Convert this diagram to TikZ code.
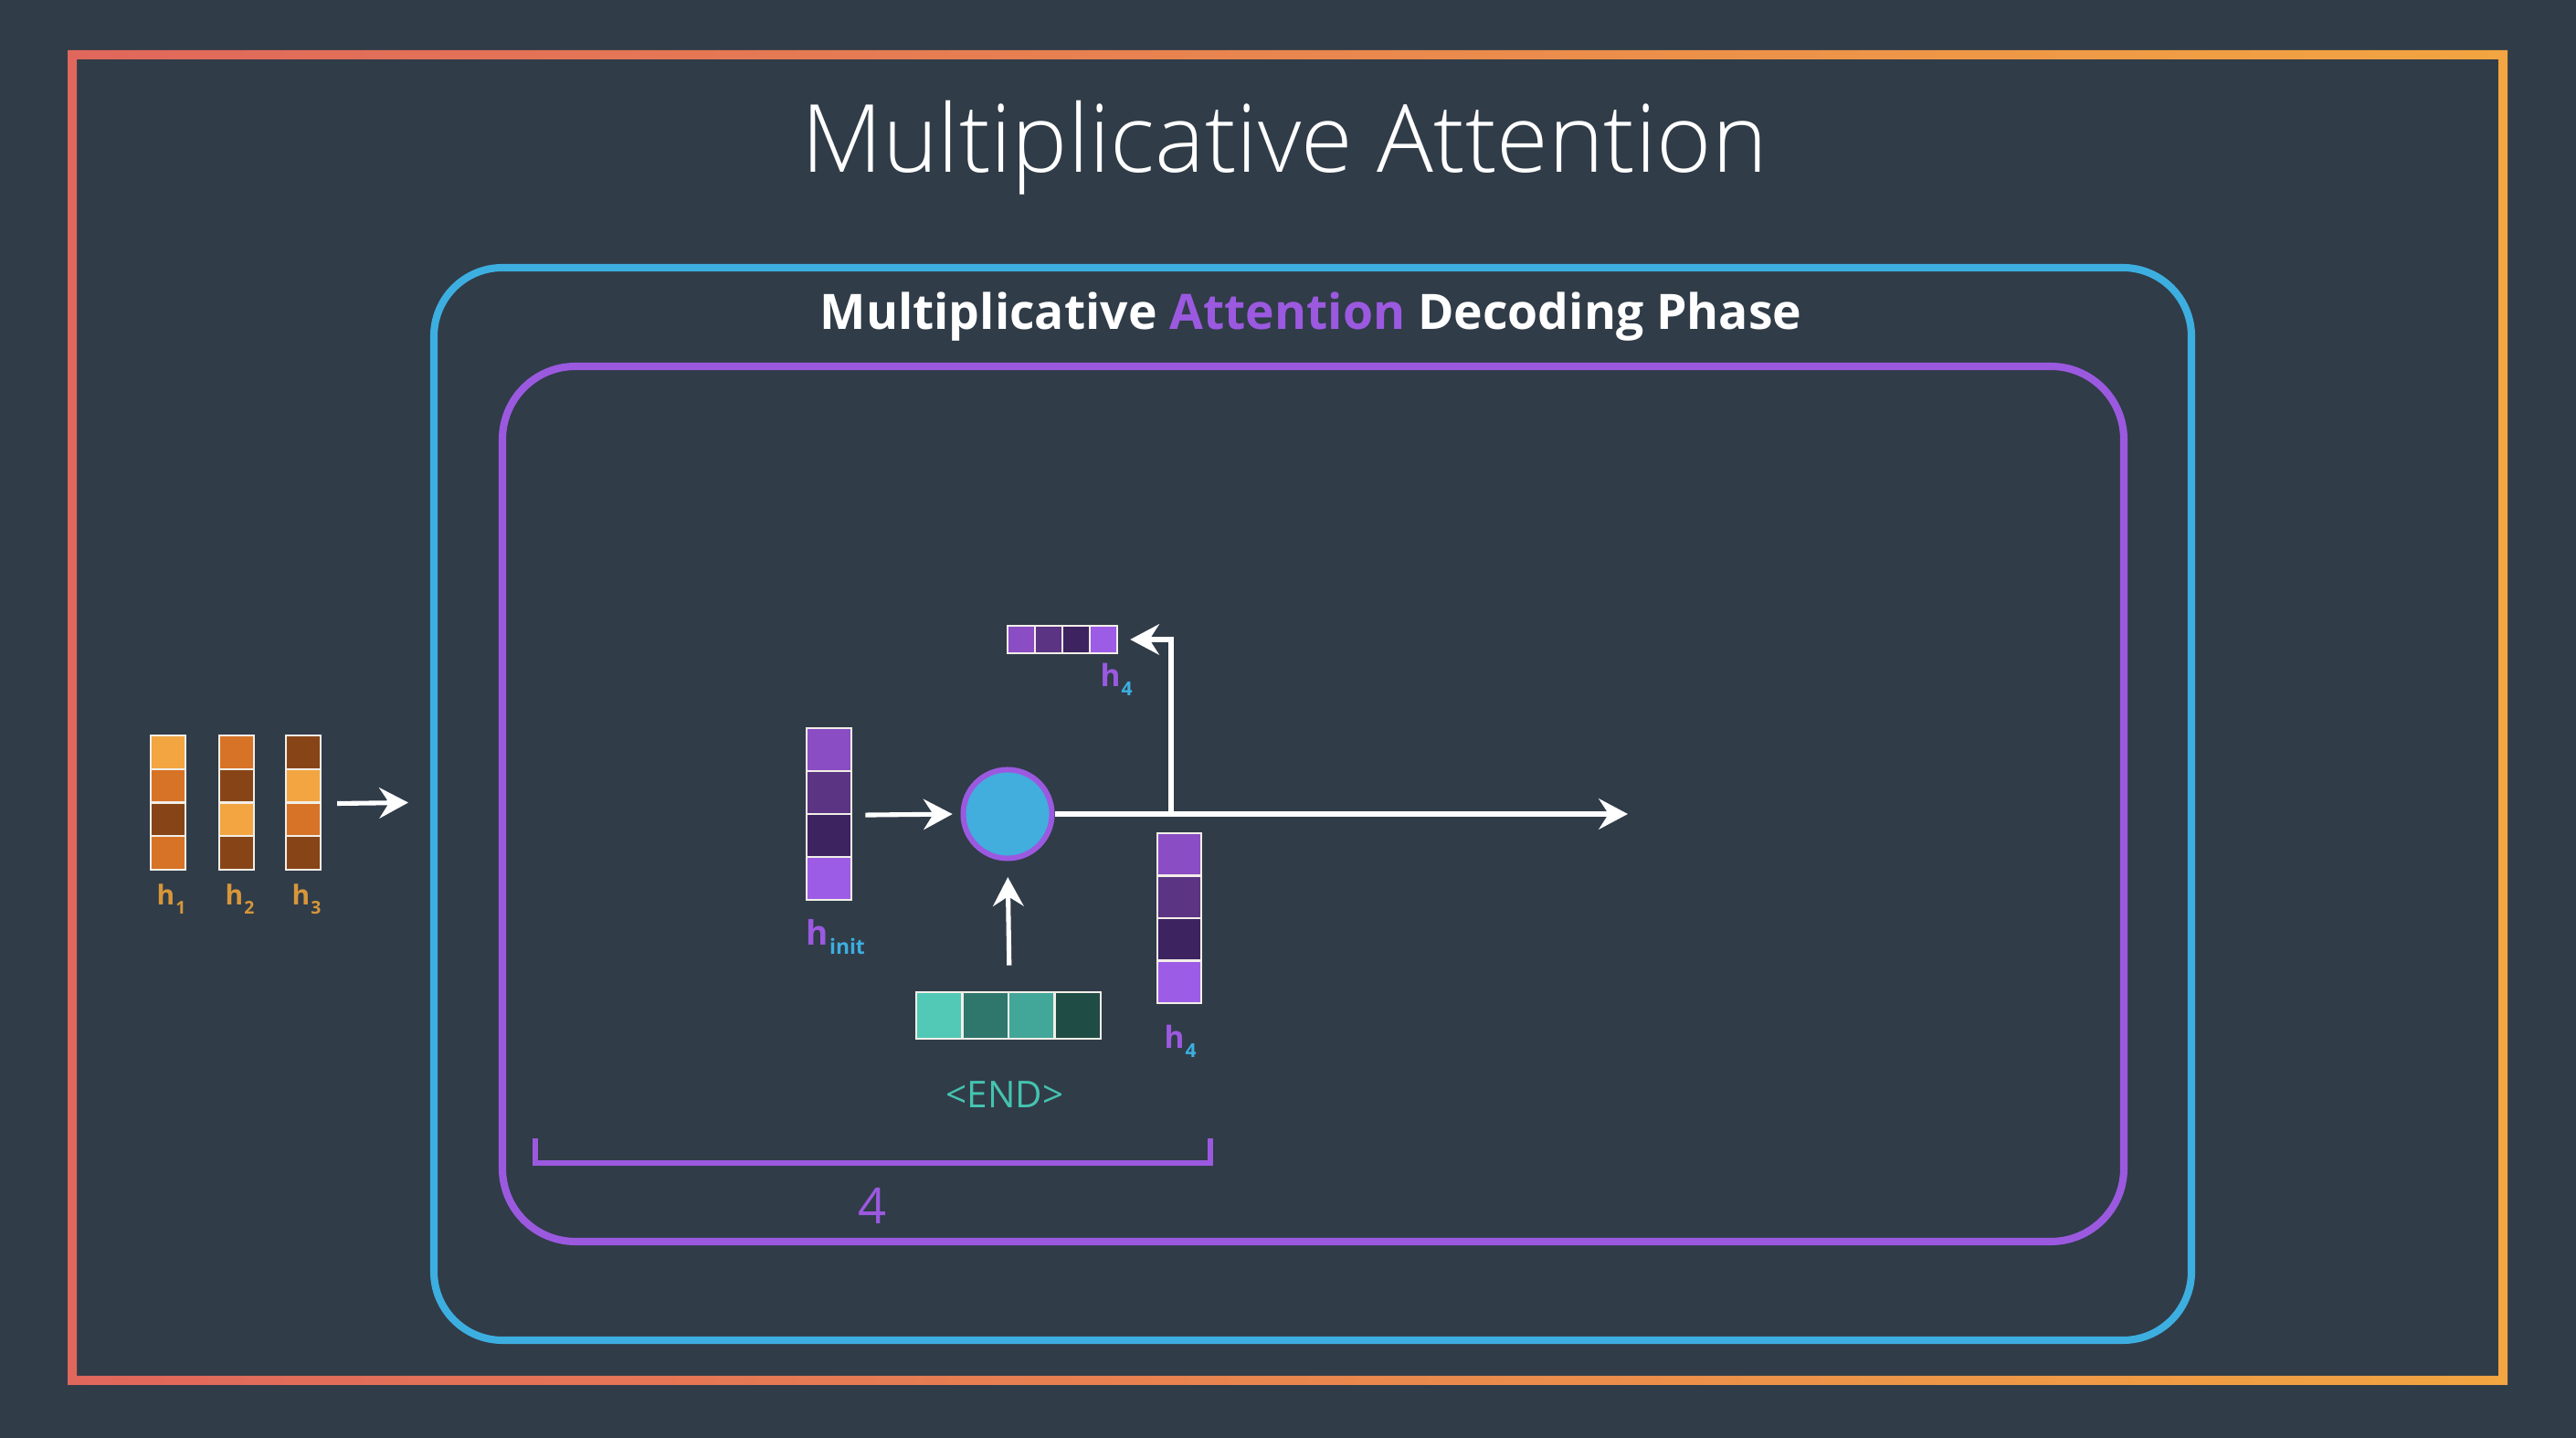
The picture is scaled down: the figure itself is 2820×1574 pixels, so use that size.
\documentclass[tikz,border=0pt]{standalone}
\usepackage{fontspec}
\setmainfont{Open Sans}
\newfontfamily\titlefont{Open Sans Light}
\usetikzlibrary{arrows.meta}
\definecolor{bg}{HTML}{303C48}
\definecolor{frameL}{HTML}{E0675C}
\definecolor{frameR}{HTML}{F2A541}
\definecolor{fblue}{HTML}{3DAEE0}
\definecolor{fpurple}{HTML}{9B59E0}
\definecolor{lo}{HTML}{F2A541}
\definecolor{mo}{HTML}{D77327}
\definecolor{br}{HTML}{874517}
\definecolor{pa}{HTML}{8A4DC4}
\definecolor{pb}{HTML}{5B3483}
\definecolor{pc}{HTML}{3D2360}
\definecolor{pd}{HTML}{9D5CE6}
\definecolor{ta}{HTML}{52C8B6}
\definecolor{tb}{HTML}{2F776D}
\definecolor{tc}{HTML}{42A698}
\definecolor{td}{HTML}{1F4C45}
\definecolor{cellline}{HTML}{F2EEE8}
\definecolor{horange}{HTML}{D8963A}
\definecolor{endteal}{HTML}{45C3B0}
\definecolor{circfill}{HTML}{42AEDD}
\tikzset{
  cell/.style={rectangle, draw=cellline, line width=0.7pt, inner sep=0pt},
  arr/.style={draw=white, line width=1.45pt, -{Stealth[length=9pt, width=9.5pt, inset=3pt]}},
  lab/.style={inner sep=0pt, anchor=base west, font=\bfseries},
}
\newcommand\vvec[6]{% name, xleft, ytop, w, h, colours
  \foreach \c [count=\i] in {#6}{%
    \node[cell, minimum width=#4*0.01cm, minimum height=#5*0.01cm, fill=\c]
      (#1-\i) at ({#2+#4/2},{#3+#5*(\i-0.5)}) {};}}
\newcommand\hvec[6]{% name, xleft, ytop, w, h, colours
  \foreach \c [count=\i] in {#6}{%
    \node[cell, minimum width=#4*0.01cm, minimum height=#5*0.01cm, fill=\c]
      (#1-\i) at ({#2+#4*(\i-0.5)},{#3+#5/2}) {};}}
\newcommand\hsub[4]{% size h, size sub, colour sub, text
  {\fontsize{#1}{#1}\selectfont h}\kern0.3pt\lower2.8pt\hbox{\fontsize{#2}{#2}\selectfont\color{#3}#4}}
\begin{document}
\begin{tikzpicture}[x=0.01cm, y=-0.01cm]
\useasboundingbox[fill=bg] (0,0) rectangle (2820,1574);
% outer gradient frame
\shade[even odd rule, left color=frameL, right color=frameR]
  (74,55) rectangle (2745,1516) (84,65) rectangle (2735,1506);
% title
\node[text=white, font=\titlefont\fontsize{29.3}{31}\selectfont] (title) at (1406,162) {Multiplicative Attention};
% blue frame
\draw[fblue, line width=2.3pt, rounded corners=0.75cm] (475,293) rectangle (2399,1467);
\node[font=\bfseries\fontsize{15.2}{18}\selectfont, text=white] (subtitle) at (1435,347)
  {Multiplicative \textcolor{fpurple}{Attention} Decoding Phase};
% purple frame
\draw[fpurple, line width=2.3pt, rounded corners=0.8cm] (550,401) rectangle (2325,1359);
% encoder hidden states
\vvec{ha}{165}{805}{38}{36.75}{lo,mo,br,mo}
\vvec{hb}{240}{805}{38}{36.75}{mo,br,lo,br}
\vvec{hc}{313}{805}{38}{36.75}{br,lo,mo,br}
\node[lab, text=horange] (lha) at (171,991) {\hsub{8.5}{5.5}{horange}{1}};
\node[lab, text=horange] (lhb) at (246,991) {\hsub{8.5}{5.5}{horange}{2}};
\node[lab, text=horange] (lhc) at (319,991) {\hsub{8.5}{5.5}{horange}{3}};
\coordinate (encend) at (447,878.5);
\draw[arr, shorten <=4.8pt] (hc-2.south east) -- (encend);
% decoder
\vvec{hi}{883}{797}{49}{47}{pa,pb,pc,pd}
\node[lab, text=fpurple] (lhi) at (882,1035) {\hsub{10.5}{6.5}{fblue}{init}};
\node[circle, draw=fpurple, line width=1.7pt, fill=circfill, minimum size=0.97cm, inner sep=0pt] (circ) at (1103,891) {};
\draw[arr, shorten <=4pt, shorten >=2.5pt] (hi-2.south east) -- (circ.west);
\hvec{en}{1003}{1086}{50.5}{51}{ta,tb,tc,td}
\node[text=endteal, font=\fontsize{11.5}{13}\selectfont] (endlab) at (1100,1198) {<END>};
\draw[arr, shorten <=8pt, shorten >=5pt] (en-2.north east) -- (circ.south);
\coordinate (outend) at (1782,891);
\coordinate (branch) at (1282,891);
\draw[arr] (circ.east) -- (outend);
\hvec{ht}{1103}{685}{30}{30}{pa,pb,pc,pd}
\node[lab, text=fpurple] (lht) at (1204,752) {\hsub{9.5}{6}{fblue}{4}};
\draw[arr, shorten >=3.7pt] (branch) |- (ht-4.east);
\vvec{hf}{1267}{912}{48}{46.5}{pa,pb,pc,pd}
\node[lab, text=fpurple] (lhf) at (1274,1148) {\hsub{9.5}{6}{fblue}{4}};
% bracket
\coordinate (bl) at (586,1246);
\coordinate (br) at (1325,1246);
\draw[fpurple, line width=1.6pt] (bl) -- ++(0,27) -| (br);
\node[text=fpurple, font=\fontsize{15.5}{17}\selectfont] (four) at (955,1320) {4};
\end{tikzpicture}
\end{document}
